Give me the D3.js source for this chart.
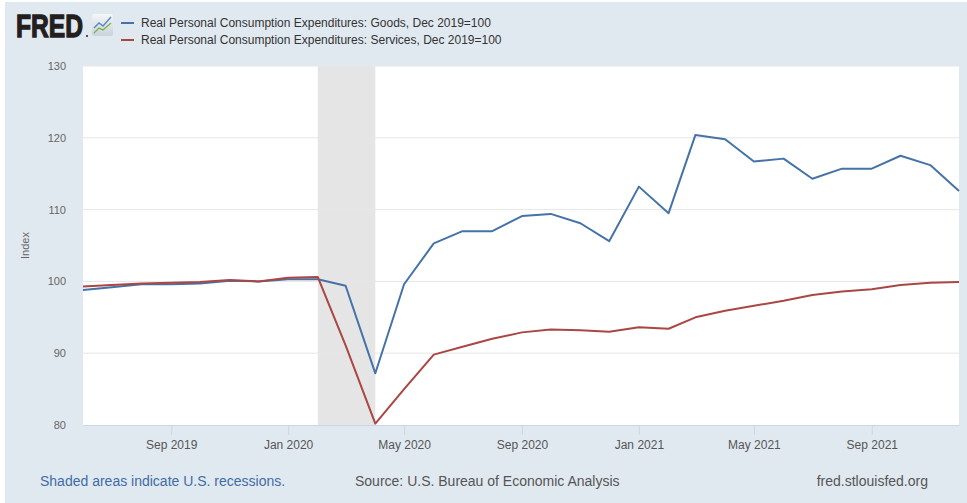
<!DOCTYPE html>
<html>
<head>
<meta charset="utf-8">
<script src="https://cdn.jsdelivr.net/npm/d3@7"></script>
<style>
  body { margin: 0; background: #fff; }
  svg { display: block; font-family: "Liberation Sans", Arial, sans-serif; }
</style>
</head>
<body>
<svg id="chart"></svg>
<script>
// monthly observations, Jun 2019 - Dec 2021
const months = ['2019-06', '2019-07', '2019-08', '2019-09', '2019-10', '2019-11', '2019-12',
  '2020-01', '2020-02', '2020-03', '2020-04', '2020-05', '2020-06', '2020-07', '2020-08',
  '2020-09', '2020-10', '2020-11', '2020-12', '2021-01', '2021-02', '2021-03', '2021-04',
  '2021-05', '2021-06', '2021-07', '2021-08', '2021-09', '2021-10', '2021-11', '2021-12'];
const goods = [98.8, 99.2, 99.6, 99.6, 99.7, 100.1, 100.0, 100.3, 100.3, 99.4, 87.2, 99.6,
  105.3, 107.0, 107.0, 109.1, 109.4, 108.1, 105.6, 113.2, 109.5, 120.4, 119.8, 116.7,
  117.1, 114.3, 115.7, 115.7, 117.5, 116.2, 112.6];
const services = [99.3, 99.5, 99.7, 99.8, 99.9, 100.2, 100.0, 100.5, 100.6, 91.1, 80.2, 85.0,
  89.8, 90.9, 92.0, 92.9, 93.3, 93.2, 93.0, 93.6, 93.4, 95.0, 95.9, 96.6, 97.3, 98.1,
  98.6, 98.9, 99.5, 99.8, 99.9];
const recessions = [['2020-02', '2020-04']];
const yTicks = [80, 90, 100, 110, 120, 130];
const xTicks = ['2019-09', '2020-01', '2020-05', '2020-09', '2021-01', '2021-05', '2021-09'];
const seriesNames = ['Real Personal Consumption Expenditures: Goods, Dec 2019=100',
  'Real Personal Consumption Expenditures: Services, Dec 2019=100'];
const colors = ['#4572a7', '#aa4643'];

const width = 967, height = 503;
const plot = { left: 83, right: 959, top: 66, bottom: 425 };
const parse = d3.timeParse('%Y-%m');

const svg = d3.select('#chart').attr('width', width).attr('height', height);

svg.append('rect').attr('x', 5).attr('y', 2).attr('width', width - 5).attr('height', height - 2)
  .attr('fill', '#e1e9f0');

const x = d3.scaleTime()
  .domain([parse(months[0]), parse(months[months.length - 1])])
  .range([plot.left, plot.right]);
const y = d3.scaleLinear().domain([80, 130]).range([plot.bottom, plot.top]);

svg.append('rect')
  .attr('x', plot.left).attr('y', plot.top)
  .attr('width', plot.right - plot.left).attr('height', plot.bottom - plot.top)
  .attr('fill', '#fff');

// recession shading
svg.selectAll('.rec').data(recessions).enter().append('rect')
  .attr('x', d => x(parse(d[0])))
  .attr('width', d => x(parse(d[1])) - x(parse(d[0])))
  .attr('y', plot.top).attr('height', plot.bottom - plot.top)
  .attr('fill', '#e5e5e5');

// gridlines
svg.selectAll('.grid').data(yTicks.filter(t => t > 80)).enter().append('line')
  .attr('x1', plot.left).attr('x2', plot.right)
  .attr('y1', d => y(d)).attr('y2', d => y(d))
  .attr('stroke', '#e6e6e6').attr('stroke-width', 1);

// y axis labels
svg.selectAll('.ylab').data(yTicks).enter().append('text')
  .attr('x', 66).attr('y', d => y(d) + 4)
  .attr('text-anchor', 'end').attr('font-size', 11).attr('fill', '#666')
  .text(d => d);

svg.append('text')
  .attr('transform', `translate(29,${(plot.top + plot.bottom) / 2}) rotate(-90)`)
  .attr('text-anchor', 'middle').attr('font-size', 11).attr('fill', '#666')
  .text('Index');

// x axis
const xAxis = d3.axisBottom(x)
  .tickValues(xTicks.map(parse))
  .tickFormat(d3.timeFormat('%b %Y'))
  .tickSize(10)
  .tickSizeOuter(0);
const gx = svg.append('g').attr('transform', `translate(0,${plot.bottom})`).call(xAxis);
gx.select('.domain').attr('stroke', '#ccd6eb');
gx.selectAll('.tick line').attr('stroke', '#ccd6eb');
gx.selectAll('.tick text').attr('font-size', 12).attr('fill', '#555').attr('dy', '0.9em')
  .attr('font-family', '"Liberation Sans", Arial, sans-serif');

// lines
const line = d3.line().x((d, i) => x(parse(months[i]))).y(d => y(d));
[goods, services].forEach((s, i) => {
  svg.append('path').datum(s)
    .attr('d', line)
    .attr('fill', 'none')
    .attr('stroke', colors[i])
    .attr('stroke-width', 2)
    .attr('stroke-linejoin', 'round');
});

// FRED logo
svg.append('text').attr('x', 16).attr('y', 37)
  .attr('font-size', 32).attr('font-weight', 'bold').attr('fill', '#231f20')
  .attr('stroke', '#231f20').attr('stroke-width', 1.3)
  .attr('textLength', 67).attr('lengthAdjust', 'spacingAndGlyphs')
  .text('FRED');
svg.append('circle').attr('cx', 87).attr('cy', 36).attr('r', 1).attr('fill', '#231f20');
const icon = svg.append('g').attr('transform', 'translate(92,14)');
const grad = svg.append('defs').append('linearGradient').attr('id', 'ig')
  .attr('x1', 0).attr('y1', 0).attr('x2', 0).attr('y2', 1);
grad.append('stop').attr('offset', 0).attr('stop-color', '#f4f6f8');
grad.append('stop').attr('offset', 1).attr('stop-color', '#c9d2da');
icon.append('rect').attr('width', 21).attr('height', 22).attr('rx', 2).attr('fill', 'url(#ig)');
icon.append('polyline').attr('points', '2,14 7,9 11,12 19,3')
  .attr('fill', 'none').attr('stroke', '#5a86c5').attr('stroke-width', 1.4);
icon.append('polyline').attr('points', '2,19 7,14 11,16 19,9')
  .attr('fill', 'none').attr('stroke', '#7fb24a').attr('stroke-width', 1.4);

// legend
seriesNames.forEach((name, i) => {
  const ly = 23 + i * 17;
  svg.append('line').attr('x1', 121).attr('x2', 134).attr('y1', ly).attr('y2', ly)
    .attr('stroke', colors[i]).attr('stroke-width', 2);
  svg.append('text').attr('x', 141).attr('y', ly + 4)
    .attr('font-size', 12).attr('fill', '#333').text(name);
});

// footer
svg.append('text').attr('x', 40).attr('y', 486).attr('font-size', 14).attr('fill', '#3e6ca8')
  .text('Shaded areas indicate U.S. recessions.');
svg.append('text').attr('x', 355).attr('y', 486).attr('font-size', 14).attr('fill', '#555')
  .text('Source: U.S. Bureau of Economic Analysis');
svg.append('text').attr('x', 928).attr('y', 486).attr('font-size', 14).attr('fill', '#555')
  .attr('text-anchor', 'end').text('fred.stlouisfed.org');
</script>
</body>
</html>
